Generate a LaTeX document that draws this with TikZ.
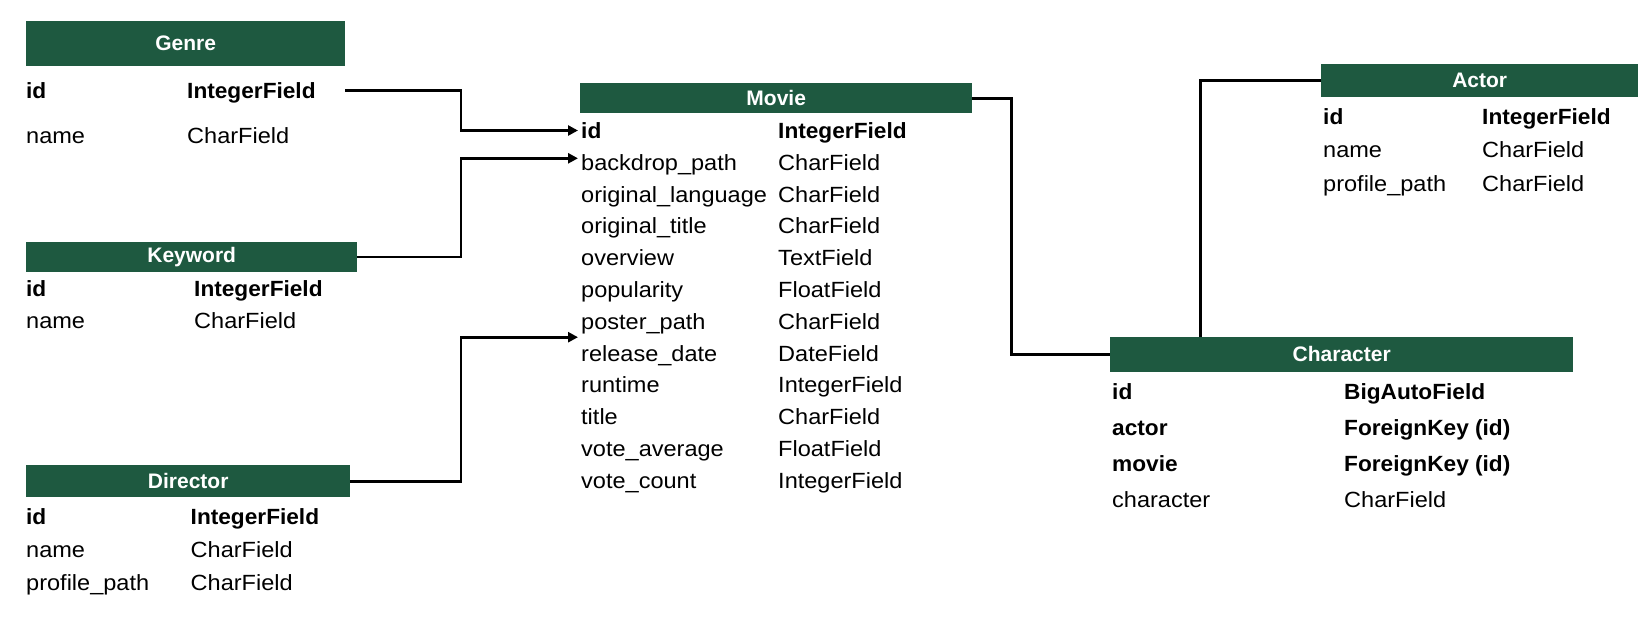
\documentclass[tikz,border=0pt]{standalone}
\usepackage{fontspec}
\setmainfont{Liberation Sans}
\newfontfamily\regf[FakeStretch=1.07]{Liberation Sans}
\newfontfamily\boldf[FakeStretch=1.03]{Liberation Sans}
\usetikzlibrary{arrows.meta,calc}
\definecolor{hdrgreen}{RGB}{30,89,64}
\begin{document}
\begin{tikzpicture}[x=1pt,y=-1pt,
  hdr/.style={fill=hdrgreen, text=white, font=\fontsize{21}{24}\bfseries\selectfont, inner sep=0pt, anchor=north west},
  fld/.style={anchor=west, inner sep=0pt, text height=16pt, text depth=0pt, font=\fontsize{22}{26}\regf\selectfont},
  fldb/.style={fld, font=\fontsize{22}{26}\boldf\bfseries\selectfont},
  conn/.style={line width=2.6pt, black},
  arr/.style={conn, -{Triangle[length=10pt,width=10pt]}}]
\useasboundingbox (0,0) rectangle (1650,638);

% Genre
\node[hdr, minimum width=319pt, minimum height=45pt] (genreH) at (26,21) {Genre};
\node[fldb] (g-id) at (26,90.5) {id};
\node[fldb] (g-idT) at (187,90.5) {IntegerField};
\node[fld] (g-nm) at (26,135) {name};
\node[fld] (g-nmT) at (187,135) {CharField};

% Keyword
\node[hdr, minimum width=331pt, minimum height=29.5pt] (kwH) at (26,242) {Keyword};
\node[fldb] (k-id) at (26,288) {id};
\node[fldb] (k-idT) at (194,288) {IntegerField};
\node[fld] (k-nm) at (26,320) {name};
\node[fld] (k-nmT) at (194,320) {CharField};

% Director
\node[hdr, minimum width=324pt, minimum height=32pt] (dirH) at (26,465) {Director};
\node[fldb] (d-id) at (26,516) {id};
\node[fldb] (d-idT) at (190.5,516) {IntegerField};
\node[fld] (d-nm) at (26,549) {name};
\node[fld] (d-nmT) at (190.5,549) {CharField};
\node[fld] (d-pp) at (26,582) {profile\_path};
\node[fld] (d-ppT) at (190.5,582) {CharField};

% Movie
\node[hdr, minimum width=392pt, minimum height=30pt] (movieH) at (580,83) {Movie};
\node[fldb] (m-1) at (581,130.5) {id};
\node[fldb] (m-1T) at (778,130.5) {IntegerField};
\foreach \f/\t [count=\i from 2] in {backdrop\_path/CharField, original\_language/CharField, original\_title/CharField, overview/TextField, popularity/FloatField, poster\_path/CharField, release\_date/DateField, runtime/IntegerField, title/CharField, vote\_average/FloatField, vote\_count/IntegerField}{
  \node[fld] (m-\i) at (581,{130.5+31.8*(\i-1)}) {\f};
  \node[fld] (m-\i T) at (778,{130.5+31.8*(\i-1)}) {\t};
}

% Actor
\node[hdr, minimum width=317pt, minimum height=33pt] (actorH) at (1321,64) {Actor};
\node[fldb] (a-id) at (1323,116) {id};
\node[fldb] (a-idT) at (1482,116) {IntegerField};
\node[fld] (a-nm) at (1323,149) {name};
\node[fld] (a-nmT) at (1482,149) {CharField};
\node[fld] (a-pp) at (1323,183) {profile\_path};
\node[fld] (a-ppT) at (1482,183) {CharField};

% Character
\node[hdr, minimum width=463pt, minimum height=34.5pt] (charH) at (1110,337) {Character};
\node[fldb] (c-id) at (1112,391.5) {id};
\node[fldb] (c-idT) at (1344,391.5) {BigAutoField};
\node[fldb] (c-ac) at (1112,427) {actor};
\node[fldb] (c-acT) at (1344,427) {ForeignKey (id)};
\node[fldb] (c-mv) at (1112,463) {movie};
\node[fldb] (c-mvT) at (1344,463) {ForeignKey (id)};
\node[fld] (c-ch) at (1112,499) {character};
\node[fld] (c-chT) at (1344,499) {CharField};

% Connectors
\coordinate (dtip) at ($(m-7.west)!0.5!(m-8.west)$);
\draw[arr] (genreH.east |- g-id) -| ([xshift=-120pt]m-1.west) -- ([xshift=-3pt]m-1.west);
\draw[arr] (kwH.east) -| ([xshift=-120pt,yshift=4pt]m-2.west) -- ([xshift=-3pt,yshift=4pt]m-2.west);
\draw[arr] (dirH.east) -| ([xshift=-120pt]dtip) -- ([xshift=-3pt]dtip);
\draw[conn] (movieH.east) -- ++(39,0) |- (charH.west);
\draw[conn] (actorH.west) -| ([xshift=90.7pt]charH.north west);
\end{tikzpicture}
\end{document}
